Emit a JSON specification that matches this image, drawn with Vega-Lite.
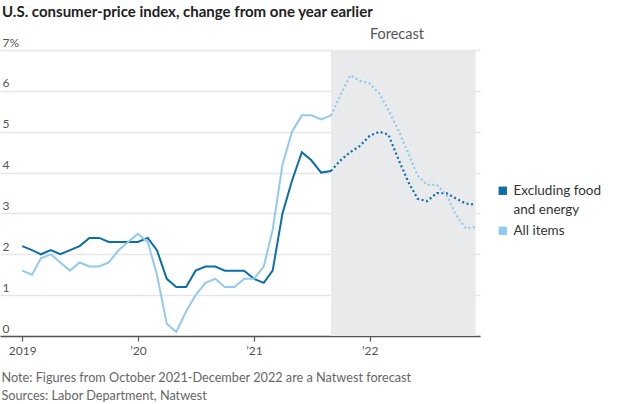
{
  "$schema": "https://vega.github.io/schema/vega-lite/v6.json",
  "width": 480,
  "height": 286,
  "autosize": "none",
  "padding": {"left": 0, "top": 50, "right": 144, "bottom": 68},
  "background": "white",
  "config": {
    "view": {"stroke": null},
    "font": "Lato",
    "text": {"font": "Lato"}
  },
  "title": {
    "text": "U.S. consumer-price index, change from one year earlier",
    "anchor": "start",
    "frame": "group",
    "offset": 7,
    "fontSize": 15,
    "fontWeight": "bold",
    "color": "#222222",
    "font": "Lato",
    "dx": 2
  },
  "datasets": {
    "cpi": [
      {"date": "2019-01-01", "series": "Excluding food and energy", "phase": "actual", "value": 2.2},
      {"date": "2019-02-01", "series": "Excluding food and energy", "phase": "actual", "value": 2.1},
      {"date": "2019-03-01", "series": "Excluding food and energy", "phase": "actual", "value": 2.0},
      {"date": "2019-04-01", "series": "Excluding food and energy", "phase": "actual", "value": 2.1},
      {"date": "2019-05-01", "series": "Excluding food and energy", "phase": "actual", "value": 2.0},
      {"date": "2019-06-01", "series": "Excluding food and energy", "phase": "actual", "value": 2.1},
      {"date": "2019-07-01", "series": "Excluding food and energy", "phase": "actual", "value": 2.2},
      {"date": "2019-08-01", "series": "Excluding food and energy", "phase": "actual", "value": 2.4},
      {"date": "2019-09-01", "series": "Excluding food and energy", "phase": "actual", "value": 2.4},
      {"date": "2019-10-01", "series": "Excluding food and energy", "phase": "actual", "value": 2.3},
      {"date": "2019-11-01", "series": "Excluding food and energy", "phase": "actual", "value": 2.3},
      {"date": "2019-12-01", "series": "Excluding food and energy", "phase": "actual", "value": 2.3},
      {"date": "2020-01-01", "series": "Excluding food and energy", "phase": "actual", "value": 2.3},
      {"date": "2020-02-01", "series": "Excluding food and energy", "phase": "actual", "value": 2.4},
      {"date": "2020-03-01", "series": "Excluding food and energy", "phase": "actual", "value": 2.1},
      {"date": "2020-04-01", "series": "Excluding food and energy", "phase": "actual", "value": 1.4},
      {"date": "2020-05-01", "series": "Excluding food and energy", "phase": "actual", "value": 1.2},
      {"date": "2020-06-01", "series": "Excluding food and energy", "phase": "actual", "value": 1.2},
      {"date": "2020-07-01", "series": "Excluding food and energy", "phase": "actual", "value": 1.6},
      {"date": "2020-08-01", "series": "Excluding food and energy", "phase": "actual", "value": 1.7},
      {"date": "2020-09-01", "series": "Excluding food and energy", "phase": "actual", "value": 1.7},
      {"date": "2020-10-01", "series": "Excluding food and energy", "phase": "actual", "value": 1.6},
      {"date": "2020-11-01", "series": "Excluding food and energy", "phase": "actual", "value": 1.6},
      {"date": "2020-12-01", "series": "Excluding food and energy", "phase": "actual", "value": 1.6},
      {"date": "2021-01-01", "series": "Excluding food and energy", "phase": "actual", "value": 1.4},
      {"date": "2021-02-01", "series": "Excluding food and energy", "phase": "actual", "value": 1.3},
      {"date": "2021-03-01", "series": "Excluding food and energy", "phase": "actual", "value": 1.6},
      {"date": "2021-04-01", "series": "Excluding food and energy", "phase": "actual", "value": 3.0},
      {"date": "2021-05-01", "series": "Excluding food and energy", "phase": "actual", "value": 3.8},
      {"date": "2021-06-01", "series": "Excluding food and energy", "phase": "actual", "value": 4.5},
      {"date": "2021-07-01", "series": "Excluding food and energy", "phase": "actual", "value": 4.3},
      {"date": "2021-08-01", "series": "Excluding food and energy", "phase": "actual", "value": 4.0},
      {"date": "2021-09-01", "series": "Excluding food and energy", "phase": "actual", "value": 4.04},
      {"date": "2021-09-01", "series": "Excluding food and energy", "phase": "forecast", "value": 4.04},
      {"date": "2021-10-01", "series": "Excluding food and energy", "phase": "forecast", "value": 4.3},
      {"date": "2021-11-01", "series": "Excluding food and energy", "phase": "forecast", "value": 4.5},
      {"date": "2021-12-01", "series": "Excluding food and energy", "phase": "forecast", "value": 4.65},
      {"date": "2022-01-01", "series": "Excluding food and energy", "phase": "forecast", "value": 4.9},
      {"date": "2022-02-01", "series": "Excluding food and energy", "phase": "forecast", "value": 5.0},
      {"date": "2022-03-01", "series": "Excluding food and energy", "phase": "forecast", "value": 4.93},
      {"date": "2022-04-01", "series": "Excluding food and energy", "phase": "forecast", "value": 4.34},
      {"date": "2022-05-01", "series": "Excluding food and energy", "phase": "forecast", "value": 3.8},
      {"date": "2022-06-01", "series": "Excluding food and energy", "phase": "forecast", "value": 3.36},
      {"date": "2022-07-01", "series": "Excluding food and energy", "phase": "forecast", "value": 3.3},
      {"date": "2022-08-01", "series": "Excluding food and energy", "phase": "forecast", "value": 3.5},
      {"date": "2022-09-01", "series": "Excluding food and energy", "phase": "forecast", "value": 3.49},
      {"date": "2022-10-01", "series": "Excluding food and energy", "phase": "forecast", "value": 3.36},
      {"date": "2022-11-01", "series": "Excluding food and energy", "phase": "forecast", "value": 3.24},
      {"date": "2022-12-01", "series": "Excluding food and energy", "phase": "forecast", "value": 3.22},
      {"date": "2019-01-01", "series": "All items", "phase": "actual", "value": 1.6},
      {"date": "2019-02-01", "series": "All items", "phase": "actual", "value": 1.5},
      {"date": "2019-03-01", "series": "All items", "phase": "actual", "value": 1.9},
      {"date": "2019-04-01", "series": "All items", "phase": "actual", "value": 2.0},
      {"date": "2019-05-01", "series": "All items", "phase": "actual", "value": 1.8},
      {"date": "2019-06-01", "series": "All items", "phase": "actual", "value": 1.6},
      {"date": "2019-07-01", "series": "All items", "phase": "actual", "value": 1.8},
      {"date": "2019-08-01", "series": "All items", "phase": "actual", "value": 1.7},
      {"date": "2019-09-01", "series": "All items", "phase": "actual", "value": 1.7},
      {"date": "2019-10-01", "series": "All items", "phase": "actual", "value": 1.8},
      {"date": "2019-11-01", "series": "All items", "phase": "actual", "value": 2.1},
      {"date": "2019-12-01", "series": "All items", "phase": "actual", "value": 2.3},
      {"date": "2020-01-01", "series": "All items", "phase": "actual", "value": 2.5},
      {"date": "2020-02-01", "series": "All items", "phase": "actual", "value": 2.3},
      {"date": "2020-03-01", "series": "All items", "phase": "actual", "value": 1.5},
      {"date": "2020-04-01", "series": "All items", "phase": "actual", "value": 0.3},
      {"date": "2020-05-01", "series": "All items", "phase": "actual", "value": 0.1},
      {"date": "2020-06-01", "series": "All items", "phase": "actual", "value": 0.6},
      {"date": "2020-07-01", "series": "All items", "phase": "actual", "value": 1.0},
      {"date": "2020-08-01", "series": "All items", "phase": "actual", "value": 1.3},
      {"date": "2020-09-01", "series": "All items", "phase": "actual", "value": 1.4},
      {"date": "2020-10-01", "series": "All items", "phase": "actual", "value": 1.2},
      {"date": "2020-11-01", "series": "All items", "phase": "actual", "value": 1.2},
      {"date": "2020-12-01", "series": "All items", "phase": "actual", "value": 1.4},
      {"date": "2021-01-01", "series": "All items", "phase": "actual", "value": 1.4},
      {"date": "2021-02-01", "series": "All items", "phase": "actual", "value": 1.7},
      {"date": "2021-03-01", "series": "All items", "phase": "actual", "value": 2.6},
      {"date": "2021-04-01", "series": "All items", "phase": "actual", "value": 4.2},
      {"date": "2021-05-01", "series": "All items", "phase": "actual", "value": 5.0},
      {"date": "2021-06-01", "series": "All items", "phase": "actual", "value": 5.4},
      {"date": "2021-07-01", "series": "All items", "phase": "actual", "value": 5.4},
      {"date": "2021-08-01", "series": "All items", "phase": "actual", "value": 5.3},
      {"date": "2021-09-01", "series": "All items", "phase": "actual", "value": 5.4},
      {"date": "2021-09-01", "series": "All items", "phase": "forecast", "value": 5.4},
      {"date": "2021-10-01", "series": "All items", "phase": "forecast", "value": 5.9},
      {"date": "2021-11-01", "series": "All items", "phase": "forecast", "value": 6.38},
      {"date": "2021-12-01", "series": "All items", "phase": "forecast", "value": 6.25},
      {"date": "2022-01-01", "series": "All items", "phase": "forecast", "value": 6.18},
      {"date": "2022-02-01", "series": "All items", "phase": "forecast", "value": 5.93},
      {"date": "2022-03-01", "series": "All items", "phase": "forecast", "value": 5.53},
      {"date": "2022-04-01", "series": "All items", "phase": "forecast", "value": 5.04},
      {"date": "2022-05-01", "series": "All items", "phase": "forecast", "value": 4.51},
      {"date": "2022-06-01", "series": "All items", "phase": "forecast", "value": 3.93},
      {"date": "2022-07-01", "series": "All items", "phase": "forecast", "value": 3.7},
      {"date": "2022-08-01", "series": "All items", "phase": "forecast", "value": 3.7},
      {"date": "2022-09-01", "series": "All items", "phase": "forecast", "value": 3.44},
      {"date": "2022-10-01", "series": "All items", "phase": "forecast", "value": 2.95},
      {"date": "2022-11-01", "series": "All items", "phase": "forecast", "value": 2.63},
      {"date": "2022-12-01", "series": "All items", "phase": "forecast", "value": 2.67}
    ],
    "forecast": [
      {"start": "2021-09-01", "end": "2022-12-01", "label": "Forecast"}
    ]
  },
  "layer": [
    {
      "data": {"name": "forecast"},
      "mark": {"type": "rect", "color": "#e9eaec"},
      "encoding": {
        "x": {"field": "start", "type": "temporal"},
        "x2": {"field": "end"},
        "y": {"datum": 0, "type": "quantitative"},
        "y2": {"datum": 7}
      }
    },
    {
      "data": {"name": "forecast"},
      "mark": {"type": "text", "fontSize": 14.5, "color": "#555555", "dy": -15, "baseline": "middle", "align": "center"},
      "encoding": {
        "x": {"datum": {"year": 2022, "month": 3, "date": 28, "utc": true}, "type": "temporal"},
        "y": {"datum": 7, "type": "quantitative"},
        "text": {"field": "label"}
      }
    },
    {
      "data": {"name": "cpi"},
      "transform": [{"filter": "datum.phase === 'actual'"}],
      "mark": {"type": "line", "strokeWidth": 2, "interpolate": "linear"},
      "encoding": {
        "x": {
          "field": "date",
          "type": "temporal",
          "scale": {
            "type": "utc",
            "domain": [
              {"year": 2018, "month": 10, "date": 23, "utc": true},
              {"year": 2022, "month": 12, "date": 15, "utc": true}
            ]
          },
          "axis": {
            "values": [
              {"year": 2019, "month": 1, "date": 1, "utc": true},
              {"year": 2020, "month": 1, "date": 1, "utc": true},
              {"year": 2021, "month": 1, "date": 1, "utc": true},
              {"year": 2022, "month": 1, "date": 1, "utc": true}
            ],
            "labelExpr": "utcyear(datum.value) == 2019 ? '2019' : '\u2019' + utcFormat(datum.value, '%y')",
            "grid": false,
            "domain": true,
            "domainColor": "#555555",
            "domainWidth": 1.5,
            "ticks": true,
            "tickColor": "#555555",
            "tickSize": 5,
            "tickWidth": 1.2,
            "labelFontSize": 12,
            "labelColor": "#555555",
            "labelPadding": 4,
            "labelFont": "Lato",
            "title": [
              "Note: Figures from October 2021-December 2022 are a Natwest forecast",
              "Sources: Labor Department, Natwest"
            ],
            "titleFont": "Lato",
            "titleFontSize": 12.7,
            "titleFontWeight": "normal",
            "titleColor": "#666666",
            "titleAnchor": "start",
            "titleAlign": "left",
            "titleBaseline": "alphabetic",
            "titleX": 1,
            "titleY": 45,
            "titleLineHeight": 18
          }
        },
        "y": {
          "field": "value",
          "type": "quantitative",
          "scale": {"domain": [0, 7], "nice": false, "zero": true},
          "axis": {
            "values": [0, 1, 2, 3, 4, 5, 6, 7],
            "labelExpr": "datum.value == 7 ? '7%' : datum.label",
            "domain": false,
            "ticks": false,
            "tickSize": 0,
            "grid": true,
            "gridColor": "#e6e6e6",
            "gridWidth": 1.5,
            "labelAlign": "left",
            "labelBaseline": "alphabetic",
            "labelPadding": -2,
            "labelOffset": -4,
            "labelFontSize": 12,
            "labelColor": "#555555",
            "labelFont": "Lato",
            "title": null
          }
        },
        "color": {
          "field": "series",
          "type": "nominal",
          "scale": {
            "domain": ["Excluding food and energy", "All items"],
            "range": ["#0b6ea8", "#92caee"]
          },
          "legend": {
            "title": null,
            "orient": "none",
            "legendX": 496,
            "legendY": 134,
            "symbolType": "square",
            "symbolSize": 70,
            "symbolStrokeWidth": 0,
            "labelFontSize": 13.5,
            "labelColor": "#333333",
            "labelFont": "Lato",
            "labelLimit": 200,
            "rowPadding": 6,
            "labelExpr": "datum.label == 'Excluding food and energy' ? ['Excluding food', 'and energy'] : datum.label",
            "encode": {
              "symbols": {
                "update": {
                  "fill": {"scale": "color", "field": "value"},
                  "stroke": {"value": "transparent"},
                  "opacity": {"value": 1}
                }
              },
              "labels": {
                "update": {
                  "lineHeight": {"value": 19}
                }
              }
            }
          }
        }
      }
    },
    {
      "data": {"name": "cpi"},
      "transform": [{"filter": "datum.phase === 'forecast'"}],
      "mark": {"type": "line", "strokeWidth": 2.2, "strokeDash": [2, 2.6], "interpolate": "linear"},
      "encoding": {
        "x": {"field": "date", "type": "temporal"},
        "y": {"field": "value", "type": "quantitative"},
        "color": {"field": "series", "type": "nominal"}
      }
    }
  ]
}
